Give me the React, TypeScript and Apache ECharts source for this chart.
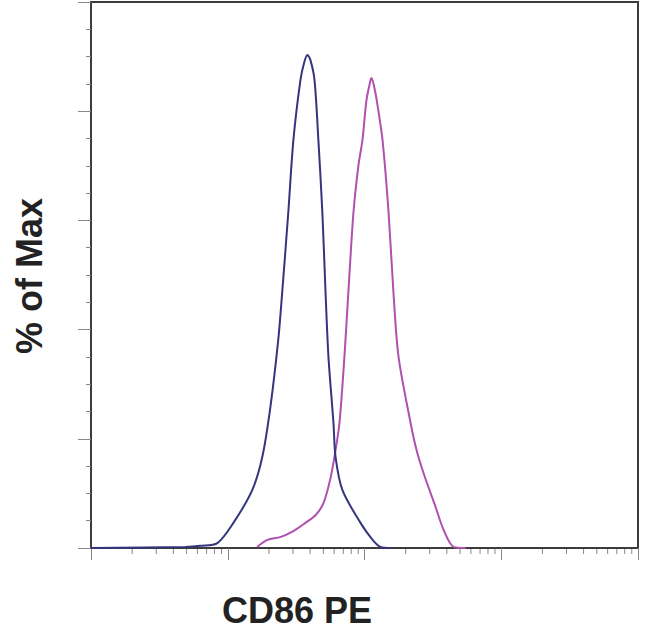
import React, { useEffect, useRef } from 'react';
import * as echarts from 'echarts';

// intensity (log axis, 10^0 .. 10^4) vs % of Max
const unstainedX = [1, 4.9, 6.3, 8.4, 11.0, 15.1, 17.9, 20.5, 23.4, 25.1, 27.7, 30.2, 34.0, 36.3, 38.2, 40.2, 43.1, 46.0, 49.2, 51.8, 54.5, 59.3, 61.4, 69.0, 93.5, 114.6, 130.9, 154.9];
const unstainedY = [0, 0.2, 0.4, 0.9, 4.6, 10.6, 16.7, 25.8, 38.1, 47.3, 61.4, 74.7, 85.7, 89.0, 90.3, 89.4, 85.7, 74.7, 61.4, 47.3, 35.0, 22.9, 16.7, 10.6, 4.6, 1.5, 0.2, 0];

const cd86X = [16.4, 19.5, 24.2, 30.2, 37.0, 43.8, 50.1, 56.4, 61.4, 65.6, 71.3, 76.4, 83.0, 90.3, 96.6, 103.5, 110.7, 112.5, 118.3, 124.5, 135.5, 150.0, 162.9, 177.4, 217.3, 240.4, 270.4, 331.1, 379.3, 448.7, 549.5];
const cd86Y = [0.2, 1.5, 2.0, 3.1, 4.6, 6.0, 8.2, 12.8, 17.9, 22.9, 35.0, 47.3, 61.4, 70.1, 74.7, 82.1, 85.7, 86.1, 84.2, 81.1, 74.7, 61.4, 46.7, 35.0, 22.9, 17.9, 13.7, 7.5, 3.3, 0.2, 0];

const decades = [1, 10, 100, 1000];
const minorSteps = [2, 3, 4, 5, 6, 7, 8, 9];

const xTitle = 'CD86 PE';
const yTitle = '% of Max';

const zip = (xs: number[], ys: number[]) => xs.map((x, i) => [x, ys[i]]);

const App: React.FC = () => {
  const chartRef = useRef<HTMLDivElement>(null);

  useEffect(() => {
    if (!chartRef.current) return;
    const chart = echarts.init(chartRef.current, undefined, { renderer: 'svg' });

    const minorTicks: number[][] = [];
    decades.forEach((d) => minorSteps.forEach((s) => minorTicks.push([d * s, 0])));

    const font = '"Liberation Sans", Arial, sans-serif';

    chart.setOption({
      animation: false,
      grid: {
        left: 91,
        right: 12,
        top: 2,
        bottom: 83,
        show: true,
        borderColor: '#3c3c3c',
        borderWidth: 2,
      },
      xAxis: {
        type: 'log',
        logBase: 10,
        min: 1,
        max: 10000,
        axisLine: { lineStyle: { color: '#3c3c3c', width: 2 } },
        axisTick: { show: true, length: 12, lineStyle: { color: '#888', width: 1 } },
        axisLabel: { show: false },
        splitLine: { show: false },
      },
      yAxis: {
        type: 'value',
        min: 0,
        max: 100,
        interval: 20,
        axisLine: { show: true, lineStyle: { color: '#3c3c3c', width: 2 } },
        axisTick: { show: true, length: 13, lineStyle: { color: '#888', width: 1 } },
        minorTick: { show: true, splitNumber: 4, length: 5, lineStyle: { color: '#888', width: 1 } },
        axisLabel: { show: false },
        splitLine: { show: false },
      },
      series: [
        {
          type: 'custom',
          silent: true,
          clip: false,
          data: minorTicks,
          renderItem: (_params: any, api: any) => {
            const pt = api.coord([api.value(0), 0]);
            return {
              type: 'line',
              shape: { x1: pt[0], y1: pt[1] + 1, x2: pt[0], y2: pt[1] + 6 },
              style: { stroke: '#888', lineWidth: 1 },
            };
          },
        },
        {
          type: 'line',
          data: zip(unstainedX, unstainedY),
          showSymbol: false,
          smooth: 0.3,
          lineStyle: { color: '#35357e', width: 2 },
          z: 3,
        },
        {
          type: 'line',
          data: zip(cd86X, cd86Y),
          showSymbol: false,
          smooth: 0.3,
          lineStyle: { color: '#b050b0', width: 2 },
          z: 2,
        },
      ],
      graphic: [
        {
          type: 'text',
          x: 222,
          y: 610,
          style: {
            text: xTitle,
            font: `bold 36px ${font}`,
            fill: '#222',
            textAlign: 'left',
            textVerticalAlign: 'middle',
          },
        },
        {
          type: 'text',
          x: 29,
          y: 276,
          rotation: Math.PI / 2,
          style: {
            text: yTitle,
            font: `bold 36px ${font}`,
            fill: '#222',
            textAlign: 'center',
            textVerticalAlign: 'middle',
          },
        },
      ],
    });

    return () => chart.dispose();
  }, []);

  return (
    <div style={{ position: 'fixed', left: 0, top: 0, width: 650, height: 631, background: '#fff' }}>
      <div ref={chartRef} style={{ width: 650, height: 631 }} />
    </div>
  );
};

export default App;
